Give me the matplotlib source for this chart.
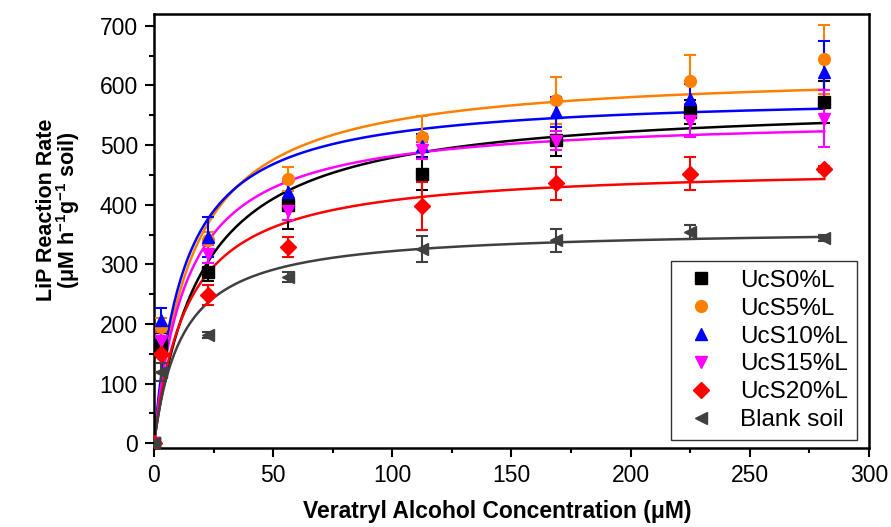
import numpy as np
import matplotlib
matplotlib.use("Agg")
import matplotlib.pyplot as plt

plt.rcParams['font.family'] = ['Liberation Sans', 'DejaVu Sans']
plt.rcParams['mathtext.fontset'] = 'custom'
plt.rcParams['mathtext.rm'] = 'Liberation Sans'
plt.rcParams['mathtext.bf'] = 'Liberation Sans:bold'

# substrate concentrations (uM)
conc = [0, 2.81, 22.5, 56.25, 112.5, 168.75, 225, 281.25]

labels = ['UcS0%L', 'UcS5%L', 'UcS10%L', 'UcS15%L', 'UcS20%L', 'Blank soil']
colors = ['#000000', '#FF8000', '#0000FF', '#FF00FF', '#FF0000', '#404040']
markers = ['s', 'o', '^', 'v', 'D', '<']

# measured rates
ucs0 = [0, 165, 287, 400, 452, 509, 555, 572]
ucs5 = [0, 195, 340, 443, 513, 575, 608, 644]
ucs10 = [0, 206, 346, 421, 499, 555, 577, 623]
ucs15 = [0, 172, 318, 390, 491, 507, 541, 544]
ucs20 = [0, 150, 248, 329, 398, 436, 452, 460]
blank = [0, 120, 181, 279, 326, 340, 354, 344]

# standard deviations
ucs0_err = [0, 20, 15, 40, 28, 27, 20, 35]
ucs5_err = [0, 15, 15, 20, 35, 40, 43, 58]
ucs10_err = [0, 20, 33, 20, 20, 25, 25, 52]
ucs15_err = [0, 15, 15, 15, 15, 16, 28, 48]
ucs20_err = [0, 30, 17, 16, 40, 28, 28, 5]
blank_err = [0, 15, 5, 8, 22, 20, 12, 5]

# Michaelis-Menten fit parameters
vmax = [575.6, 626.6, 586.3, 549.3, 465.6, 360.8]
km = [20.2, 15.9, 12.65, 14.1, 14.3, 12.0]

series = [ucs0, ucs5, ucs10, ucs15, ucs20, blank]
errors = [ucs0_err, ucs5_err, ucs10_err, ucs15_err, ucs20_err, blank_err]

fig = plt.figure(figsize=(8.91, 5.27), dpi=100)
ax = fig.add_axes([0.1728, 0.150, 0.8025, 0.8236])

s_fit = np.linspace(0, conc[-1], 400)
handles = []
for y, e, c, m, lab, V, K in zip(series, errors, colors, markers, labels, vmax, km):
    ax.plot(s_fit, V * s_fit / (K + s_fit), color=c, lw=1.8, zorder=2)
    ax.errorbar(conc, y, yerr=e, fmt='none', ecolor=c, elinewidth=1.5,
                capsize=4, capthick=1.5, zorder=3)
    h, = ax.plot(conc, y, linestyle='none', marker=m, color=c, ms=8.5,
                 mec=c, zorder=4, label=lab)
    handles.append(h)

ax.set_xlim(0, 300)
ax.set_ylim(-8, 720)
ax.set_xticks(np.arange(0, 301, 50))
ax.set_xticks(np.arange(0, 301, 25), minor=True)
ax.set_yticks(np.arange(0, 701, 100))
ax.set_yticks(np.arange(0, 701, 50), minor=True)
ax.tick_params(axis='both', which='major', direction='out', length=6.5,
               width=1.5, labelsize=16.5, pad=5)
ax.tick_params(axis='both', which='minor', direction='out', length=3.5, width=1.5)
for sp in ax.spines.values():
    sp.set_linewidth(1.8)

ax.set_xlabel('Veratryl Alcohol Concentration (\u03bcM)', fontsize=16.5,
              fontweight='bold')
ax.xaxis.set_label_coords(0.48, -0.12)
ax.set_ylabel('LiP Reaction Rate\n(\u03bcM h$^{\\mathbf{-1}}$g$^{\\mathbf{-1}}$ soil)',
              fontsize=15.5, fontweight='bold', linespacing=0.9)
ax.yaxis.set_label_coords(-0.1, 0.548)

leg = ax.legend(handles=handles, loc='lower right', bbox_to_anchor=(0.983, 0.018),
                fontsize=17.5, frameon=True, fancybox=False, edgecolor='black',
                handletextpad=0.75, borderpad=0.37, labelspacing=0.24,
                handlelength=1.7, borderaxespad=0)
leg.get_frame().set_linewidth(1.0)

fig.savefig('out.png', dpi=100)
